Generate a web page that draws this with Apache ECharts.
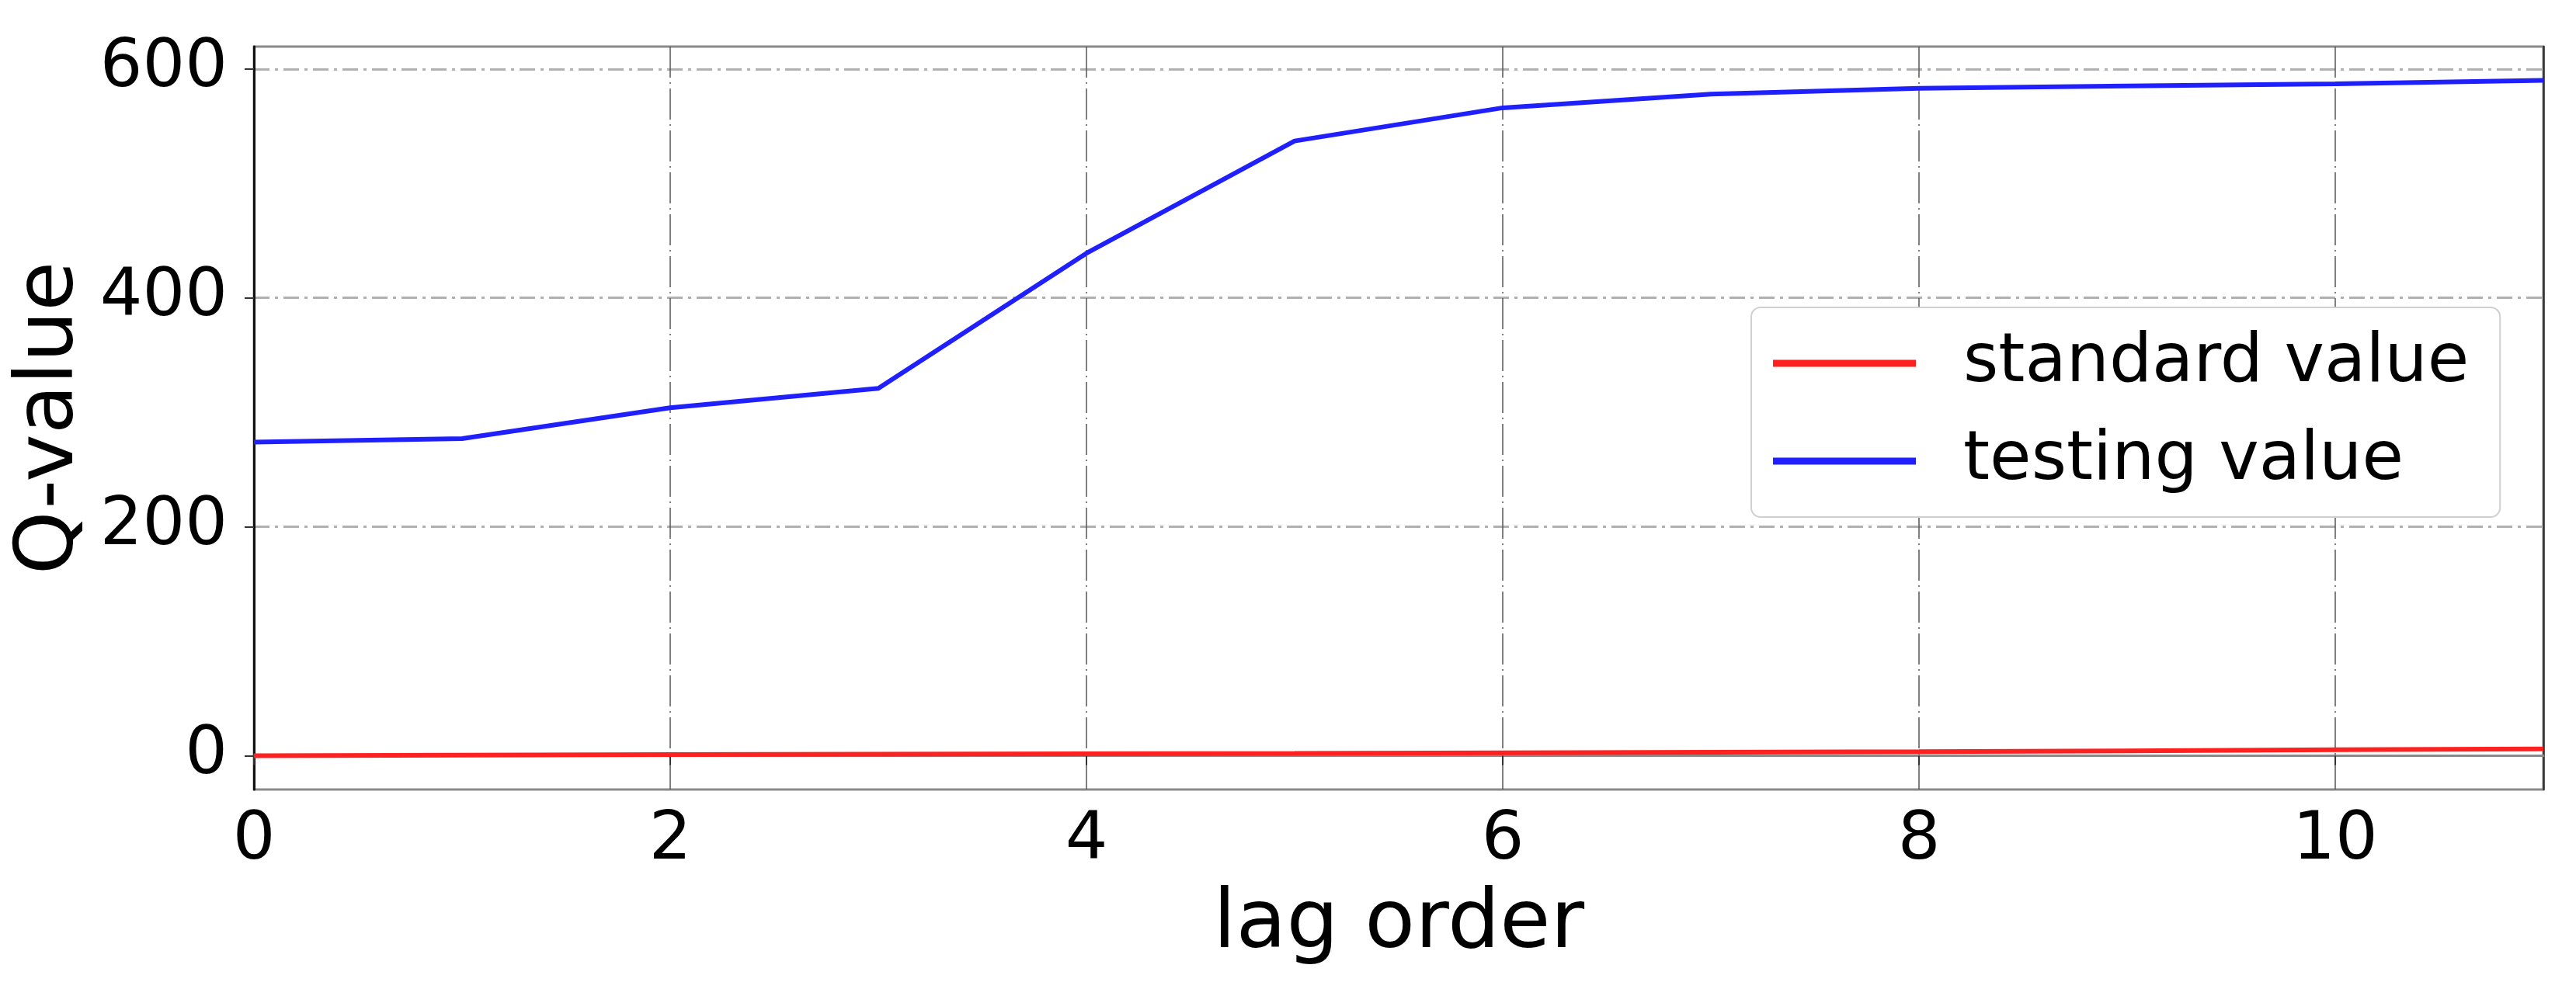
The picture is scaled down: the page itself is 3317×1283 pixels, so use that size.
<!DOCTYPE html>
<html>
<head>
<meta charset="utf-8">
<script src="https://cdn.jsdelivr.net/npm/echarts@6/dist/echarts.min.js"></script>
<style>
  html, body { margin: 0; padding: 0; background: #fff; }
  #box { width: 3317px; height: 1283px; }
</style>
</head>
<body>
<div id="box"></div>
<script>
// lag order (x) and the two Q-value curves
const lags = [0, 1, 2, 3, 4, 5, 6, 7, 8, 9, 10, 11]
const standardValue = [0, 0.5, 1, 1.3, 1.7, 2, 2.5, 3, 3.5, 4.3, 5.2, 6]
const testingValue = [274, 277, 304, 321, 439, 537, 566, 578, 583, 585, 587, 590]
const xTicks = [0, 2, 4, 6, 8, 10]
const yTicks = [0, 200, 400, 600]

const font = 'DejaVu Sans'
const myChart = echarts.init(document.getElementById('box'))

const option = {
  animation: false,
  backgroundColor: '#fff',
  grid: {
    left: 327, right: 42, top: 60, bottom: 266,
    show: true,
    borderColor: '#8a8a8a',
    borderWidth: 3
  },
  legend: {
    orient: 'vertical',
    left: 2255,
    top: 396,
    icon: 'rect',
    itemWidth: 184,
    itemHeight: 9,
    itemGap: 26,
    padding: [22, 40, 22, 28],
    backgroundColor: '#fff',
    borderColor: '#d0d0d0',
    borderWidth: 2,
    borderRadius: 12,
    textStyle: { fontFamily: font, fontSize: 87, color: '#000', padding: [0, 0, 0, 56], lineHeight: 100 },
    data: ['standard value', 'testing value']
  },
  xAxis: {
    type: 'value',
    min: 0,
    max: 11,
    name: 'lag order',
    nameLocation: 'middle',
    nameGap: 122,
    nameTextStyle: { fontFamily: font, fontSize: 106, color: '#000' },
    axisLine: { show: true, lineStyle: { color: '#8a8a8a', width: 3 } },
    axisTick: { show: true, customValues: xTicks, length: 12, lineStyle: { color: '#333', width: 2 } },
    axisLabel: { customValues: xTicks, fontFamily: font, fontSize: 86, color: '#000', margin: 24 },
    splitLine: { show: true, lineStyle: { color: '#555', width: 1.5, type: [40, 6, 2, 6] } }
  },
  yAxis: [
    {
      type: 'value',
      min: -29.5,
      max: 619.5,
      name: 'Q-value',
      nameLocation: 'middle',
      nameRotate: 90,
      nameGap: 200,
      nameTextStyle: { fontFamily: font, fontSize: 104, color: '#000' },
      axisLine: { show: true, lineStyle: { color: '#111', width: 3 } },
      axisTick: { show: true, customValues: yTicks, length: 12, lineStyle: { color: '#333', width: 2 } },
      axisLabel: { customValues: yTicks, fontFamily: font, fontSize: 86, color: '#000', margin: 34 },
      splitLine: { show: true, lineStyle: { color: '#b0b0b0', width: 3, type: [20, 7, 4, 7] } }
    },
    {
      // right spine only
      type: 'value',
      position: 'right',
      min: -29.5,
      max: 619.5,
      axisLine: { show: true, lineStyle: { color: '#333', width: 2.5 } },
      axisTick: { show: false },
      axisLabel: { show: false },
      splitLine: { show: false }
    }
  ],
  series: [
    {
      name: 'standard value',
      type: 'line',
      showSymbol: false,
      lineStyle: { color: '#ff2020', width: 6 },
      itemStyle: { color: '#ff2020' },
      data: lags.map((x, i) => [x, standardValue[i]]),
      z: 3
    },
    {
      name: 'testing value',
      type: 'line',
      showSymbol: false,
      lineStyle: { color: '#2020ff', width: 6 },
      itemStyle: { color: '#2020ff' },
      data: lags.map((x, i) => [x, testingValue[i]]),
      z: 4
    }
  ]
}
myChart.setOption(option)
</script>
</body>
</html>
